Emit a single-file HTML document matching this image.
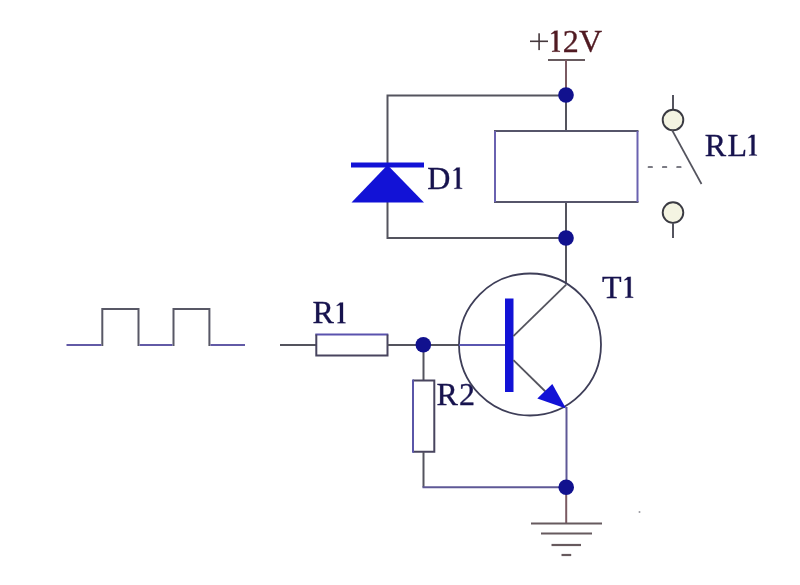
<!DOCTYPE html>
<html><head><meta charset="utf-8">
<style>
html,body{margin:0;padding:0;background:#ffffff;}
body{width:800px;height:585px;overflow:hidden;}
svg{display:block;filter:blur(0.3px);}
text{font-family:"Liberation Serif",serif;}
</style></head>
<body>
<svg width="800" height="585" viewBox="0 0 800 585">
<rect width="800" height="585" fill="#ffffff"/>
<polyline points="101.3,345 102.3,345 102.3,309 138.5,309 138.5,345 139.5,345" fill="none" stroke="#585866" stroke-width="2"/>
<polyline points="172.5,345 173.5,345 173.5,309 209.4,309 209.4,345 210.4,345" fill="none" stroke="#585866" stroke-width="2"/>
<line x1="66.5" y1="345" x2="101.3" y2="345" stroke="#625aa6" stroke-width="2"/>
<line x1="139.5" y1="345" x2="172.5" y2="345" stroke="#625aa6" stroke-width="2"/>
<line x1="210.4" y1="345" x2="245" y2="345" stroke="#625aa6" stroke-width="2"/>
<rect x="530" y="40.5" width="18" height="1.6" fill="#45383c"/><rect x="538.3" y="33.3" width="1.6" height="16.8" fill="#45383c"/>
<path d="M554.45,30.90 L557.55,30.60 L557.55,50.50 L560.00,51.10 L560.00,51.70 L552.00,51.70 L552.00,51.10 L554.45,50.50 Z M554.45,30.90 L555.40,31.10 L554.45,33.20 L551.20,34.20 L551.20,33.60 Z" fill="#501a22" stroke="#501a22" stroke-width="0.2"/>
<text x="562.7" y="51.7" font-size="32" fill="#501a22" stroke="#501a22" stroke-width="0.35">2</text>
<text x="578.9" y="51.7" font-size="32" fill="#501a22" stroke="#501a22" stroke-width="0.35">V</text>
<line x1="548" y1="60" x2="585" y2="60" stroke="#675a5e" stroke-width="2"/>
<line x1="566" y1="60" x2="566" y2="95" stroke="#7a5a62" stroke-width="2"/>
<polyline points="566,95.5 387.5,95.5 387.5,238 566,238" fill="none" stroke="#54545e" stroke-width="2"/>
<rect x="351" y="162.5" width="73" height="5" fill="#1212d6"/>
<polygon points="387.5,165 424,202.5 351.5,202.5" fill="#1212d6"/>
<text x="427.3" y="188.8" font-size="32" fill="#17134e" stroke="#17134e" stroke-width="0.35">D</text>
<path d="M456.65,167.70 L459.75,167.40 L459.75,187.60 L462.20,188.20 L462.20,188.80 L454.20,188.80 L454.20,188.20 L456.65,187.60 Z M456.65,167.70 L457.60,167.90 L456.65,170.00 L453.40,171.00 L453.40,170.40 Z" fill="#17134e" stroke="#17134e" stroke-width="0.2"/>
<line x1="566" y1="95" x2="566" y2="131" stroke="#54545e" stroke-width="2"/>
<line x1="566" y1="202" x2="566" y2="284" stroke="#54545e" stroke-width="2"/>
<line x1="494" y1="131" x2="638.5" y2="131" stroke="#56556a" stroke-width="2"/>
<line x1="494" y1="202" x2="638.5" y2="202" stroke="#56556a" stroke-width="2"/>
<line x1="495" y1="131" x2="495" y2="202" stroke="#6a62b0" stroke-width="2"/>
<line x1="637.5" y1="131" x2="637.5" y2="202" stroke="#6a62b0" stroke-width="2"/>
<line x1="673" y1="95" x2="673" y2="110" stroke="#54545e" stroke-width="2"/>
<circle cx="673" cy="120" r="10.3" fill="#f4f4e2" stroke="#3a3a42" stroke-width="1.9"/>
<line x1="672" y1="130" x2="701.5" y2="184" stroke="#54545e" stroke-width="1.7"/>
<circle cx="673" cy="212.6" r="10.3" fill="#f4f4e2" stroke="#3a3a42" stroke-width="1.9"/>
<line x1="673" y1="223" x2="673" y2="238" stroke="#54545e" stroke-width="2"/>
<line x1="648.5" y1="167" x2="683" y2="167" stroke="#50505c" stroke-width="1.7" stroke-linecap="round" stroke-dasharray="3.6,10.7"/>
<text x="704.8" y="155.5" font-size="32" fill="#17134e" stroke="#17134e" stroke-width="0.35">R</text>
<text x="727.6" y="155.5" font-size="32" fill="#17134e" stroke="#17134e" stroke-width="0.35">L</text>
<path d="M751.45,135.00 L754.55,134.70 L754.55,154.30 L757.00,154.90 L757.00,155.50 L749.00,155.50 L749.00,154.90 L751.45,154.30 Z M751.45,135.00 L752.40,135.20 L751.45,137.30 L748.20,138.30 L748.20,137.70 Z" fill="#17134e" stroke="#17134e" stroke-width="0.2"/>
<circle cx="566" cy="95" r="7.8" fill="#11118e"/>
<circle cx="566" cy="238" r="7.8" fill="#11118e"/>
<line x1="280" y1="345" x2="316" y2="345" stroke="#54545e" stroke-width="2"/>
<line x1="315.3" y1="334.5" x2="388.3" y2="334.5" stroke="#5a52ae" stroke-width="2"/>
<polyline points="316.3,334.5 316.3,355.4 387.5,355.4 387.5,334.5" fill="none" stroke="#48445e" stroke-width="2"/>
<line x1="387.5" y1="345" x2="459" y2="345" stroke="#54545e" stroke-width="2"/>
<text x="312.6" y="323.2" font-size="32" fill="#17134e" stroke="#17134e" stroke-width="0.35">R</text>
<path d="M339.95,302.70 L343.05,302.40 L343.05,322.00 L345.50,322.60 L345.50,323.20 L337.50,323.20 L337.50,322.60 L339.95,322.00 Z M339.95,302.70 L340.90,302.90 L339.95,305.00 L336.70,306.00 L336.70,305.40 Z" fill="#17134e" stroke="#17134e" stroke-width="0.2"/>
<line x1="423.5" y1="345" x2="423.5" y2="380.5" stroke="#54545e" stroke-width="2"/>
<polyline points="413,380.5 434.3,380.5 434.3,451.7 413,451.7" fill="none" stroke="#48445e" stroke-width="2"/>
<line x1="413" y1="379.5" x2="413" y2="452.7" stroke="#5a56a8" stroke-width="2"/>
<line x1="423.5" y1="451.7" x2="423.5" y2="487.3" stroke="#54545e" stroke-width="2"/>
<line x1="422.5" y1="487.3" x2="566" y2="487.3" stroke="#5e5896" stroke-width="2"/>
<text x="436.6" y="405" font-size="32" fill="#17134e" stroke="#17134e" stroke-width="0.35">R</text>
<text x="459.0" y="405" font-size="32" fill="#17134e" stroke="#17134e" stroke-width="0.35">2</text>
<circle cx="423.3" cy="344.8" r="7.8" fill="#11118e"/>
<circle cx="530" cy="344.5" r="71" fill="none" stroke="#3e3e58" stroke-width="1.8"/>
<line x1="459" y1="345" x2="505" y2="345" stroke="#5a56b0" stroke-width="2"/>
<rect x="505" y="298.5" width="8.5" height="93.5" fill="#1212d6"/>
<line x1="513.4" y1="336.2" x2="566.2" y2="284.6" stroke="#54545e" stroke-width="1.8"/>
<line x1="513.4" y1="360.2" x2="550" y2="396" stroke="#54545e" stroke-width="1.8"/>
<polygon points="566,408.6 552.3,384.1 537.3,398.5" fill="#1212d6"/>
<text x="602.0" y="297.7" font-size="32" fill="#17134e" stroke="#17134e" stroke-width="0.35">T</text>
<path d="M627.65,277.10 L630.75,276.80 L630.75,296.50 L633.20,297.10 L633.20,297.70 L625.20,297.70 L625.20,297.10 L627.65,296.50 Z M627.65,277.10 L628.60,277.30 L627.65,279.40 L624.40,280.40 L624.40,279.80 Z" fill="#17134e" stroke="#17134e" stroke-width="0.2"/>
<line x1="566.5" y1="407" x2="566.5" y2="487" stroke="#5e5896" stroke-width="2"/>
<line x1="566.2" y1="487" x2="566.2" y2="523.5" stroke="#7a5a62" stroke-width="2"/>
<line x1="531" y1="523.5" x2="602" y2="523.5" stroke="#675a5e" stroke-width="2.2"/>
<line x1="541" y1="533.5" x2="592" y2="533.5" stroke="#675a5e" stroke-width="2.2"/>
<line x1="551.5" y1="545" x2="581" y2="545" stroke="#675a5e" stroke-width="2.2"/>
<line x1="561.5" y1="555" x2="571.2" y2="555" stroke="#675a5e" stroke-width="2.2"/>
<circle cx="566.2" cy="487.2" r="7.8" fill="#11118e"/>
<circle cx="639.5" cy="512" r="1" fill="#9a9aa0"/>
</svg>
</body></html>
